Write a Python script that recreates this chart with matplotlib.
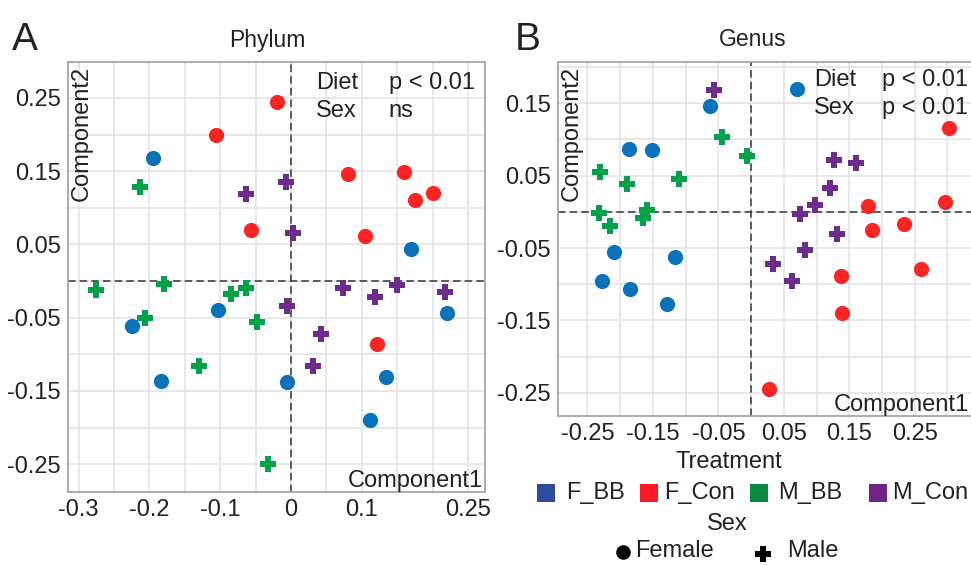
import numpy as np
import matplotlib
matplotlib.use("Agg")
import matplotlib.pyplot as plt

plt.rcParams['font.family'] = ['Liberation Sans', 'DejaVu Sans']
plt.rcParams['axes.unicode_minus'] = False

# Groups
groups = ["F_BB", "F_Con", "M_BB", "M_Con"]
point_colors = {"F_BB": "#0a72b9", "F_Con": "#fd2424", "M_BB": "#04a04a", "M_Con": "#6e2b8e"}
key_colors = {"F_BB": "#2f4c9c", "F_Con": "#fd1a24", "M_BB": "#078a40", "M_Con": "#6c2585"}
group_marker = {"F_BB": "o", "F_Con": "o", "M_BB": "P", "M_Con": "P"}

# Panel A - Phylum (Component1, Component2)
phylum = {
    "F_BB": ([-0.195, 0.170, -0.224, -0.103, -0.184, -0.005, 0.220, 0.134, 0.111],
             [0.168, 0.044, -0.061, -0.040, -0.137, -0.138, -0.044, -0.131, -0.190]),
    "F_Con": ([-0.020, -0.106, 0.080, 0.160, 0.175, 0.201, -0.057, 0.105, 0.121],
              [0.244, 0.200, 0.146, 0.149, 0.110, 0.120, 0.069, 0.062, -0.086]),
    "M_BB": ([-0.214, -0.276, -0.180, -0.206, -0.085, -0.063, -0.048, -0.130, -0.033],
             [0.129, -0.012, -0.004, -0.050, -0.018, -0.009, -0.056, -0.116, -0.250]),
    "M_Con": ([-0.063, -0.007, 0.003, -0.005, 0.043, 0.031, 0.074, 0.119, 0.149, 0.218],
              [0.119, 0.135, 0.065, -0.034, -0.072, -0.116, -0.010, -0.022, -0.005, -0.015]),
}

# Panel B - Genus
genus = {
    "F_BB": ([-0.063, 0.070, -0.187, -0.151, -0.210, -0.116, -0.228, -0.185, -0.128],
             [0.146, 0.170, 0.087, 0.086, -0.056, -0.062, -0.096, -0.107, -0.127]),
    "F_Con": ([0.303, 0.296, 0.179, 0.184, 0.234, 0.260, 0.137, 0.139, 0.027],
              [0.116, 0.013, 0.008, -0.025, -0.017, -0.079, -0.089, -0.140, -0.245]),
    "M_BB": ([-0.045, -0.007, -0.231, -0.189, -0.110, -0.232, -0.215, -0.159, -0.165],
             [0.104, 0.077, 0.055, 0.038, 0.046, -0.002, -0.020, 0.002, -0.009]),
    "M_Con": ([-0.056, 0.127, 0.161, 0.121, 0.098, 0.075, 0.131, 0.082, 0.033, 0.062],
              [0.168, 0.072, 0.068, 0.033, 0.010, -0.003, -0.031, -0.053, -0.072, -0.095]),
}

# Tick labels
a_xticks = [-0.3, -0.2, -0.1, 0, 0.1, 0.25]
a_xticklabels = ["-0.3", "-0.2", "-0.1", "0", "0.1", "0.25"]
a_yticks = [0.25, 0.15, 0.05, -0.05, -0.15, -0.25]
b_xticks = [-0.25, -0.15, -0.05, 0.05, 0.15, 0.25]
b_yticks = [0.15, 0.05, -0.05, -0.15, -0.25]

# Test results
a_stats = [("Diet", "p < 0.01"), ("Sex", "ns")]
b_stats = [("Diet", "p < 0.01"), ("Sex", "p < 0.01")]

TXT = "#222222"
FS = 17
W, H = 971, 565
fig = plt.figure(figsize=(W / 100, H / 100), dpi=100)


def px_box(left, top, right, bottom):
    return [left / W, 1 - bottom / H, (right - left) / W, (bottom - top) / H]


def style_axes(ax, xlim, ylim, xticks, xlabels, yticks):
    ax.set_xlim(*xlim)
    ax.set_ylim(*ylim)
    # grid every 0.05
    for g in np.arange(-0.35, 0.351, 0.05):
        ax.axvline(g, color="#e6e6e6", lw=1.3, zorder=0)
        ax.axhline(g, color="#e6e6e6", lw=1.3, zorder=0)
    ax.axvline(0, color="#444444", lw=1.2, ls=(0, (4.5, 2.5)), zorder=1)
    ax.axhline(0, color="#444444", lw=1.2, ls=(0, (4.5, 2.5)), zorder=1)
    ax.set_xticks(xticks)
    ax.set_xticklabels(xlabels)
    ax.set_yticks(yticks)
    ax.set_yticklabels([f"{v:g}" for v in yticks])
    ax.tick_params(length=0, labelsize=FS, colors=TXT, pad=5)
    for s in ax.spines.values():
        s.set_color("#a6a6a6")
        s.set_linewidth(1.3)
    ax.text(0.006, 0.99, "Component2", transform=ax.transAxes, rotation=90,
            ha="left", va="top", fontsize=FS, color=TXT)


def draw_points(ax, data):
    for g in groups:
        xs, ys = data[g]
        ax.scatter(xs, ys, s=120 if group_marker[g] == "o" else 140,
                   marker=group_marker[g], color=point_colors[g],
                   linewidths=0, zorder=3)


# Panel A
axA = fig.add_axes(px_box(68, 62, 485, 492))
style_axes(axA, (-0.315, 0.274), (-0.288, 0.299), a_xticks, a_xticklabels, a_yticks)
draw_points(axA, phylum)
axA.text(0.995, 0.0, "Component1", transform=axA.transAxes, ha="right",
         va="bottom", fontsize=FS, color=TXT)
for i, (k, v) in enumerate(a_stats):
    axA.text(0.035, 0.271 - i * 0.039, k, ha="left", va="center", fontsize=FS, color=TXT)
    axA.text(0.138, 0.271 - i * 0.039, v, ha="left", va="center", fontsize=FS, color=TXT)

# Panel B (cut at right edge of image)
axB = fig.add_axes(px_box(558, 62, 971, 416))
style_axes(axB, (-0.295, 0.336), (-0.282, 0.207), b_xticks,
           [f"{v:g}" for v in b_xticks], b_yticks)
axB.spines["right"].set_visible(False)
draw_points(axB, genus)
axB.text(0.995, 0.0, "Component1", transform=axB.transAxes, ha="right",
         va="bottom", fontsize=FS, color=TXT)
for i, (k, v) in enumerate(b_stats):
    axB.text(0.096, 0.182 - i * 0.039, k, ha="left", va="center", fontsize=FS, color=TXT)
    axB.text(0.200, 0.182 - i * 0.039, v, ha="left", va="center", fontsize=FS, color=TXT)

# Panel letters and titles
fig.text(12 / W, 1 - 40 / H, "A", fontsize=28, color=TXT, ha="left", va="center")
fig.text(515 / W, 1 - 40 / H, "B", fontsize=28, color=TXT, ha="left", va="center")
fig.text(267 / W, 1 - 40 / H, "Phylum", fontsize=16.5, color=TXT, ha="center", va="center")
fig.text(753 / W, 1 - 40 / H, "Genus", fontsize=16.5, color=TXT, ha="center", va="center")

# Legend (drawn in pixel space overlay)
lax = fig.add_axes([0, 0, 1, 1])
lax.set_xlim(0, W)
lax.set_ylim(H, 0)
lax.axis("off")
lax.text(729, 462, "Treatment", ha="center", va="center", fontsize=FS, color=TXT)
key_x = [546, 649, 759, 878]
lab_x = [566, 664, 778, 892]
for g, kx, lx in zip(groups, key_x, lab_x):
    lax.scatter([kx], [493], marker="s", s=150, color=key_colors[g], linewidths=0)
    lax.text(lx, 493, g, ha="left", va="center", fontsize=FS, color=TXT)
lax.text(727, 524, "Sex", ha="center", va="center", fontsize=FS, color=TXT)
lax.scatter([623], [552], marker="o", s=110, color="black", linewidths=0)
lax.text(635, 551, "Female", ha="left", va="center", fontsize=FS, color=TXT)
lax.scatter([763], [554], marker="P", s=120, color="black", linewidths=0)
lax.text(787, 551, "Male", ha="left", va="center", fontsize=FS, color=TXT)

fig.savefig("out.png", dpi=100)
